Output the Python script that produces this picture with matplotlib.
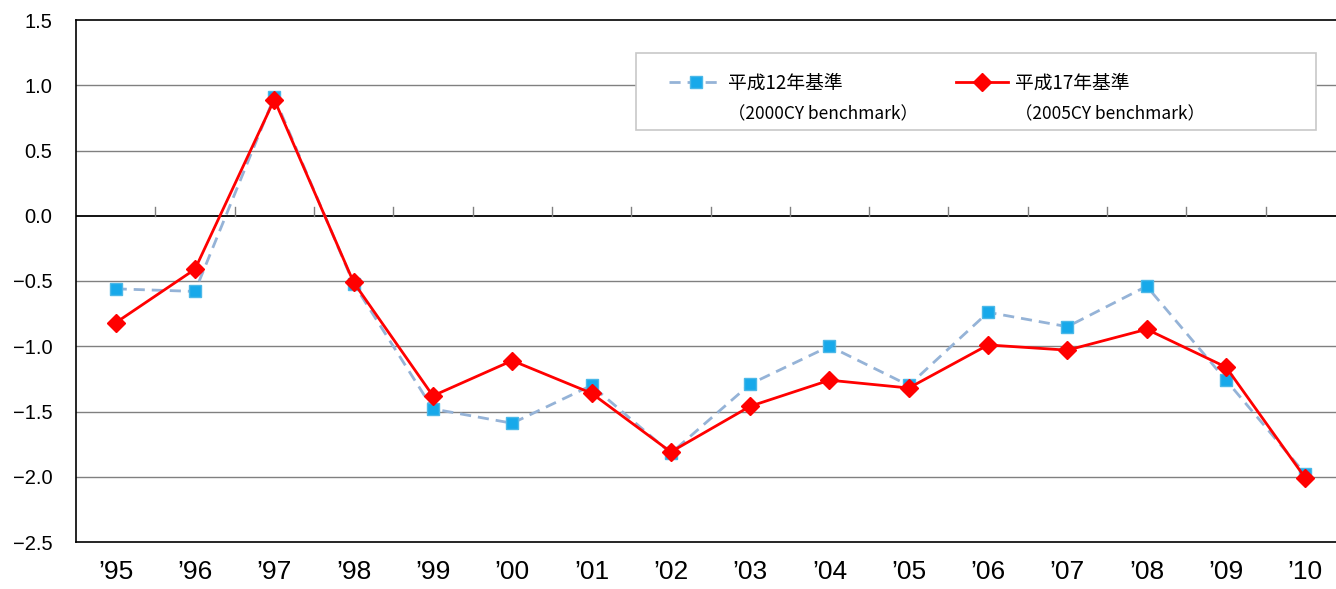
import numpy as np
import matplotlib.pyplot as plt
from matplotlib.lines import Line2D
from matplotlib.patches import Rectangle

plt.rcParams['font.family'] = ['Noto Sans CJK JP', 'DejaVu Sans']

years = ["\u201995", "\u201996", "\u201997", "\u201998", "\u201999", "\u201900",
         "\u201901", "\u201902", "\u201903", "\u201904", "\u201905", "\u201906",
         "\u201907", "\u201908", "\u201909", "\u201910"]
h12 = [-0.56, -0.58, 0.91, -0.52, -1.48, -1.59, -1.30, -1.82,
       -1.29, -1.00, -1.30, -0.74, -0.85, -0.54, -1.26, -1.98]
h17 = [-0.82, -0.41, 0.89, -0.51, -1.38, -1.11, -1.36, -1.81,
       -1.46, -1.26, -1.32, -0.99, -1.03, -0.87, -1.16, -2.01]
name12 = "平成12年基準"
name17 = "平成17年基準"
sub12 = "（2000CY benchmark）"
sub17 = "（2005CY benchmark）"

fig = plt.figure(figsize=(13.36, 5.89), dpi=100)
ax = fig.add_axes([76 / 1336, 47 / 589, 1269 / 1336, 522 / 589])

x = np.arange(len(years))
l12, = ax.plot(x, h12, color='#95B3D7', ls='--', lw=2, marker='s', ms=9,
               mfc='#17A9EA', mec='#4BB8E8', dashes=(4, 2.5), zorder=3)
l17, = ax.plot(x, h17, color='#FF0000', lw=2, marker='D', ms=9,
               mfc='#FF0000', mec='#FF0000', zorder=4)

ax.set_xlim(-0.5, len(years) - 0.5)
ax.set_ylim(-2.5, 1.5)
yt = np.arange(-2.5, 1.51, 0.5)
ax.set_yticks(yt)
ax.set_yticklabels([f'{v:.1f}'.replace('-', '\u2212') for v in yt],
                   fontsize=14.5, family=['Liberation Sans', 'DejaVu Sans'])
for v in np.arange(-2.0, 1.01, 0.5):
    if abs(v) > 1e-9:
        ax.axhline(v, color='#808080', lw=1, zorder=1)
ax.axhline(0, color='black', lw=1.3, zorder=2)

# category boundary ticks on the zero line
for b in np.arange(0.5, len(years) - 0.5, 1):
    ax.plot([b, b], [0, 0.07], color='#808080', lw=1, zorder=2)

ax.set_xticks(x)
ax.set_xticklabels(years, fontsize=19, family=['Liberation Sans', 'DejaVu Sans'])
ax.tick_params(axis='x', length=0, pad=13)
ax.tick_params(axis='y', length=0, pad=17)
for s in ['left', 'bottom', 'top']:
    ax.spines[s].set_color('black')
    ax.spines[s].set_linewidth(1.2)
ax.spines['right'].set_visible(False)

# legend box
box = Rectangle((636 / 1336, 1 - 130 / 589), 680 / 1336, 77 / 589,
                transform=fig.transFigure, facecolor='white', edgecolor='#C8C8C8',
                lw=1.2, zorder=5, clip_on=False)
ax.add_patch(box)

blank = Line2D([], [], color='none')
leg = ax.legend([l12, blank, l17, blank], [name12, sub12, name17, sub17],
                loc='upper left', bbox_to_anchor=(660 / 1336, 1 - 63 / 589),
                bbox_transform=fig.transFigure, ncol=2, fontsize=13.5,
                frameon=False, handlelength=2.8, handletextpad=0.35,
                columnspacing=2.0, borderpad=0, labelspacing=0.65)
leg.set_zorder(6)
for t in leg.get_texts()[1::2]:
    t.set_fontsize(12.5)

fig.savefig('out.png', dpi=100)
